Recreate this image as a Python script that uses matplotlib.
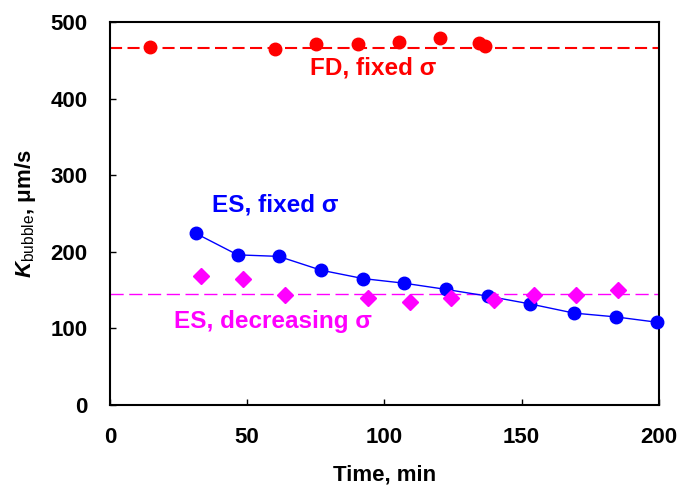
import matplotlib
matplotlib.use("Agg")
import matplotlib.pyplot as plt

plt.rcParams['font.family'] = ['Liberation Sans', 'DejaVu Sans']
plt.rcParams['mathtext.fontset'] = 'custom'
plt.rcParams['mathtext.rm'] = 'Liberation Sans'
plt.rcParams['mathtext.it'] = 'Liberation Sans:italic:bold'
plt.rcParams['mathtext.bf'] = 'Liberation Sans:bold'

# FD, fixed sigma
fd_t = [14.5, 60.1, 74.9, 90.4, 105.4, 120.4, 134.3, 136.8]
fd_k = [468, 465, 471, 471, 474, 479, 472, 469]
fd_mean = 466

# ES, fixed sigma
es_t = [31.3, 46.5, 61.5, 76.9, 92.3, 107.2, 122.3, 137.8, 153.0, 169.0, 184.3, 199.4]
es_k = [224, 196, 194, 176, 165, 159, 151, 142, 132, 120, 115, 108]

# ES, decreasing sigma
esd_t = [33.1, 48.6, 63.8, 93.9, 109.3, 124.1, 140.0, 154.6, 169.8, 185.2]
esd_k = [169, 164, 144, 140, 135, 140, 137, 143, 143, 150]
esd_mean = 145

xticks = [0, 50, 100, 150, 200]
yticks = [0, 100, 200, 300, 400, 500]

fig = plt.figure(figsize=(6.81, 4.86), dpi=100)
ax = fig.add_axes([0.1615, 0.1667, 0.806, 0.788])

red = '#ff0000'
blue = '#0000ff'
mag = '#ff00ff'

ax.axhline(fd_mean, color=red, lw=1.5, ls=(0, (5.8, 2.6)), zorder=1)
ax.axhline(esd_mean, color=mag, lw=1.0, ls=(0, (9.5, 4)), zorder=1)
ax.plot(fd_t, fd_k, 'o', color=red, ms=9, zorder=3)
ax.plot(es_t, es_k, '-o', color=blue, lw=1.0, ms=9, zorder=3, clip_on=False)
ax.plot(esd_t, esd_k, 'D', color=mag, ms=8.5, zorder=3)

lab_fs = 17.5
ax.text(96, 432, 'FD, fixed σ', color=red, fontsize=lab_fs, fontweight='bold', ha='center', va='baseline')
ax.text(60.1, 252, 'ES, fixed σ', color=blue, fontsize=lab_fs, fontweight='bold', ha='center', va='baseline')
ax.text(59.2, 100.5, 'ES, decreasing σ', color=mag, fontsize=lab_fs, fontweight='bold', ha='center', va='baseline')

ax.set_xlim(0, 200)
ax.set_ylim(0, 500)
ax.set_xticks(xticks)
ax.set_yticks(yticks)
ax.tick_params(direction='in', length=4.5, width=1, labelsize=16, pad=16)
for lab in ax.get_xticklabels() + ax.get_yticklabels():
    lab.set_fontweight('bold')
for s in ax.spines.values():
    s.set_linewidth(1.5)

ax.set_xlabel('Time, min', fontsize=16, fontweight='bold', labelpad=12)
ax.set_ylabel(r'$K_{\mathrm{bubble}}$, μm/s', fontsize=16, fontweight='bold', labelpad=9)

fig.savefig('out.png', dpi=100)
